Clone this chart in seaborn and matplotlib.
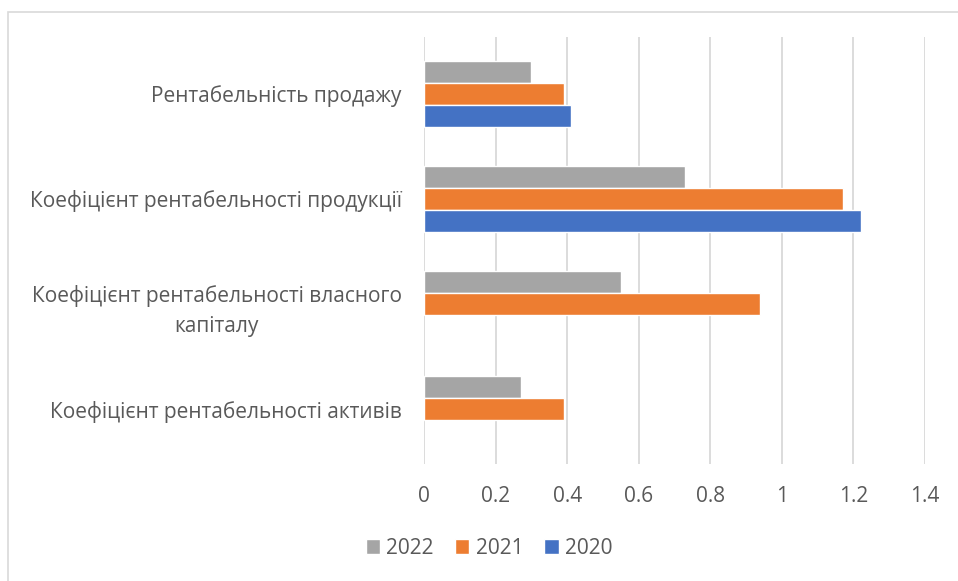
import numpy as np
import pandas as pd
import matplotlib
matplotlib.use("Agg")
import matplotlib.pyplot as plt
from matplotlib.patches import Rectangle
import seaborn as sns

# data
categories = ["Рентабельність продажу",
              "Коефіцієнт рентабельності продукції",
              "Коефіцієнт рентабельності власного\nкапіталу",
              "Коефіцієнт рентабельності активів"]
years = ["2022", "2021", "2020"]
v2022 = [0.30, 0.73, 0.55, 0.27]
v2021 = [0.39, 1.17, 0.94, 0.39]
v2020 = [0.41, 1.22, np.nan, np.nan]
colors = ["#a5a5a5", "#ed7d31", "#4472c4"]

df = pd.DataFrame({
    "category": categories * 3,
    "year": [y for y in years for _ in categories],
    "value": v2022 + v2021 + v2020,
})

sns.set_style("white")
plt.rcParams["font.family"] = ["Open Sans", "DejaVu Sans"]
text_color = "#595959"

fig = plt.figure(figsize=(9.58, 5.81), dpi=100)
ax = fig.add_axes([424 / 958, 1 - 464 / 581, (925 - 424) / 958, (464 - 37) / 581])

sns.barplot(data=df, y="category", x="value", hue="year", hue_order=years,
            order=categories, palette=colors, orient="h", width=0.63,
            saturation=1, errorbar=None, ax=ax, legend=True)

ax.set_xlim(0, 1.4)
ax.set_xticks(np.arange(0, 1.41, 0.2))
ax.set_xticklabels(["0", "0.2", "0.4", "0.6", "0.8", "1", "1.2", "1.4"])
ax.set_ylim(3.52, -0.54)
ax.grid(axis="x", color="#d9d9d9", linewidth=1.3)
ax.set_axisbelow(True)
for s in ax.spines.values():
    s.set_visible(False)
ax.set_xlabel("")
ax.set_ylabel("")
ax.tick_params(axis="x", length=0, pad=16, labelsize=15, labelcolor=text_color)
ax.tick_params(axis="y", length=0, pad=16, labelsize=15, labelcolor=text_color)
for lbl in ax.get_yticklabels():
    lbl.set_multialignment("center")
    lbl.set_linespacing(1.55)

handles, labels = ax.get_legend_handles_labels()
ax.get_legend().remove()
fig.legend(handles, labels, loc="center", bbox_to_anchor=(489 / 958, 1 - 548 / 581),
           ncol=3, frameon=False, fontsize=15, labelcolor=text_color,
           handlelength=0.7, handleheight=0.7, handletextpad=0.3, columnspacing=1.0)

fig.patches.append(Rectangle((8 / 958, -0.1), 1.2, 1 - 12 / 581 + 0.1,
                             transform=fig.transFigure, fill=False,
                             edgecolor="#d9d9d9", linewidth=1.2))

fig.savefig("out.png", dpi=100)
plt.close(fig)
